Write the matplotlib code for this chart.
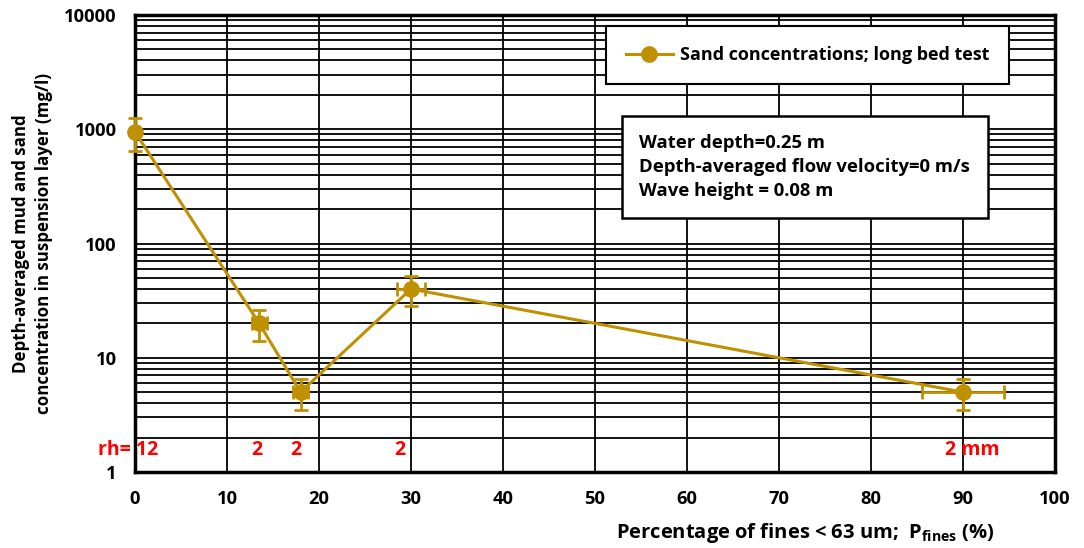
import matplotlib
matplotlib.use("Agg")
import matplotlib.pyplot as plt
from matplotlib.ticker import FixedLocator, LogLocator, NullFormatter
from matplotlib.lines import Line2D

plt.rcParams['font.family'] = ['Open Sans', 'DejaVu Sans']
plt.rcParams['font.weight'] = 'bold'
plt.rcParams['mathtext.fontset'] = 'custom'
plt.rcParams['mathtext.bf'] = 'Open Sans:bold'
plt.rcParams['mathtext.rm'] = 'Open Sans:bold'

# data
p_fines = [0, 13.5, 18, 30, 90]
conc = [950, 20, 5, 40, 5]
conc_err = [300, 6, 1.5, 11.5, 1.5]
p_err = [0, 0.8, 0.8, 1.5, 4.5]

x_ticks = [0, 10, 20, 30, 40, 50, 60, 70, 80, 90, 100]
y_ticks = [1, 10, 100, 1000, 10000]
y_tick_labels = ['1', '10', '100', '1000', '10000']

rh_labels = ['rh= 12', '2', '2', '2', '2 mm']
rh_x = [-4.0, 13.2, 17.5, 28.8, 88.0]
rh_ha = ['left', 'center', 'center', 'center', 'left']
rh_y = 1.55

color = '#BF9000'

fig = plt.figure(figsize=(10.84, 5.48), dpi=100)
ax = fig.add_axes([0.1245, 0.1387, 0.8487, 0.8339])
ax.set_yscale('log')
ax.set_xlim(0, 100)
ax.set_ylim(1, 10000)

ax.errorbar(p_fines, conc, yerr=conc_err, xerr=p_err, color=color, ecolor=color,
            lw=2.2, elinewidth=2.0, capsize=5, capthick=2.0, marker='o', markersize=11,
            zorder=5, clip_on=False)

ax.xaxis.set_major_locator(FixedLocator(x_ticks))
ax.yaxis.set_major_locator(FixedLocator(y_ticks))
ax.set_yticklabels(y_tick_labels)
ax.yaxis.set_minor_locator(LogLocator(base=10, subs=range(2, 10), numticks=20))
ax.yaxis.set_minor_formatter(NullFormatter())
ax.grid(which='major', axis='both', color='black', lw=1.3)
ax.grid(which='minor', axis='y', color='black', lw=1.3)
ax.tick_params(which='both', length=0, labelsize=13.2, pad=13)
for lab in ax.get_xticklabels() + ax.get_yticklabels():
    lab.set_fontweight('bold')
for s in ax.spines.values():
    s.set_linewidth(2.5)
    s.set_color('black')

for t, xv, ha in zip(rh_labels, rh_x, rh_ha):
    ax.text(xv, rh_y, t, color='red', fontsize=14, fontweight='bold', ha=ha, va='center',
            clip_on=False, zorder=6)

ax.set_ylabel('Depth-averaged mud and sand\nconcentration in suspension layer (mg/l)',
              fontsize=12.2, fontweight='bold', labelpad=8, linespacing=1.35)
fig.text(0.743, 0.006, r'Percentage of fines < 63 um;  P$_{\mathbf{fines}}$ (%)',
         fontsize=14.5, fontweight='bold', ha='center', va='bottom')

handle = Line2D([], [], color=color, lw=2.2, marker='o', markersize=11)
leg = ax.legend([handle], ['Sand concentrations; long bed test'],
                loc='upper left', bbox_to_anchor=(0.512, 0.976), fontsize=13.0,
                frameon=True, fancybox=False, edgecolor='black', borderpad=1.1,
                handlelength=2.6, handletextpad=0.4, framealpha=1, borderaxespad=0)
leg.get_frame().set_linewidth(1.5)
for t in leg.get_texts():
    t.set_fontweight('bold')

ax.text(0.548, 0.740, 'Water depth=0.25 m\nDepth-averaged flow velocity=0 m/s\nWave height = 0.08 m',
        transform=ax.transAxes, fontsize=13.3, fontweight='bold', ha='left', va='top',
        linespacing=1.45, zorder=7,
        bbox=dict(boxstyle='square,pad=0.95', facecolor='white', edgecolor='black', lw=1.8))

fig.savefig('out.png', dpi=100)
